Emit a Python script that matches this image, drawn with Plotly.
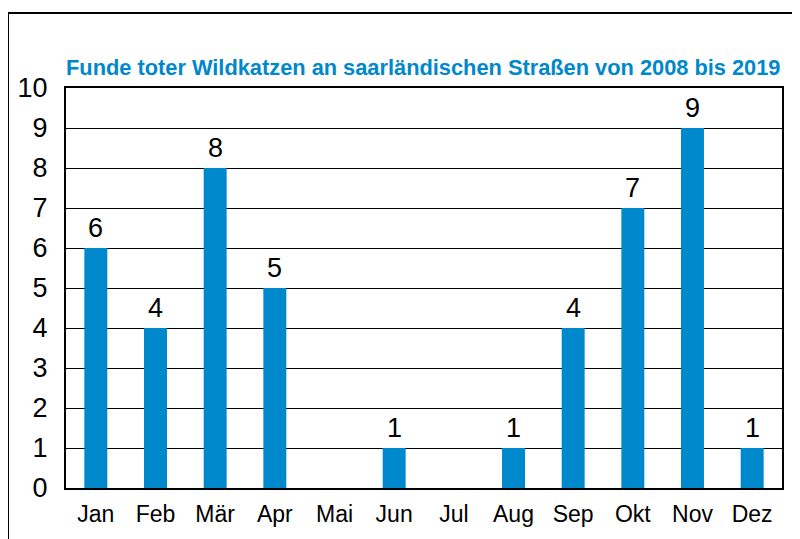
import plotly.graph_objects as go

months = ["Jan", "Feb", "Mär", "Apr", "Mai", "Jun", "Jul", "Aug", "Sep", "Okt", "Nov", "Dez"]
counts = [6, 4, 8, 5, 0, 1, 0, 1, 4, 7, 9, 1]
y_ticks = list(range(0, 11))
title_text = "Funde toter Wildkatzen an saarländischen Straßen von 2008 bis 2019"

BLUE = "#0088cc"
FONT = "Liberation Sans, Arial, sans-serif"

# page body has an 8px offset; compensate so plot area sits at x 66..782, y 88..488
OFF = 8
W, H = 800 - OFF, 539 - OFF
L, T = 66 - OFF, 88 - OFF
pw, ph = 716, 400
R, B = W - L - pw, H - T - ph

def px_y(y_page):
    return (T + ph - (y_page - OFF)) / ph

def px_x(x_page):
    return ((x_page - OFF) - L) / pw

fig = go.Figure()
fig.add_trace(go.Bar(
    x=months, y=counts, marker=dict(color=BLUE, line=dict(width=0)),
    hoverinfo="skip",
))

annotations = []
for m, v in zip(months, counts):
    if v > 0:
        annotations.append(dict(
            x=m, y=v, xref="x", yref="y", text=str(v), showarrow=False,
            yanchor="bottom", yshift=3,
            font=dict(family=FONT, size=27, color="black"),
        ))
annotations.append(dict(
    x=0, y=px_y(67.5), xref="paper", yref="paper", xanchor="left", yanchor="middle",
    text=title_text, showarrow=False, xshift=-2,
    font=dict(family=FONT, size=21.8, color=BLUE, weight="bold"),
))

fig.update_layout(
    width=W, height=H,
    margin=dict(l=L, r=R, t=T, b=B, autoexpand=False),
    paper_bgcolor="white", plot_bgcolor="white",
    showlegend=False,
    bargap=0.615,
    annotations=annotations,
    font=dict(family=FONT, color="black"),
    shapes=[dict(
        type="rect", xref="paper", yref="paper",
        x0=px_x(8), x1=px_x(815),
        y0=px_y(555), y1=px_y(13),
        line=dict(color="black", width=2), fillcolor="rgba(0,0,0,0)", layer="below",
    )],
)
fig.update_xaxes(
    showline=True, linecolor="black", linewidth=2, mirror=True, automargin=False,
    showgrid=False, ticks="", tickfont=dict(family=FONT, size=23, color="black"),
    ticklabelstandoff=4,
)
fig.update_yaxes(
    range=[0, 10], tickvals=y_ticks, ticktext=[str(t) for t in y_ticks],
    showline=True, linecolor="black", linewidth=2, mirror=True, automargin=False,
    showgrid=True, gridcolor="black", gridwidth=1, zeroline=False,
    ticks="", tickfont=dict(family=FONT, size=27, color="black"),
    ticklabelstandoff=11,
)

fig.write_html("out.html")
